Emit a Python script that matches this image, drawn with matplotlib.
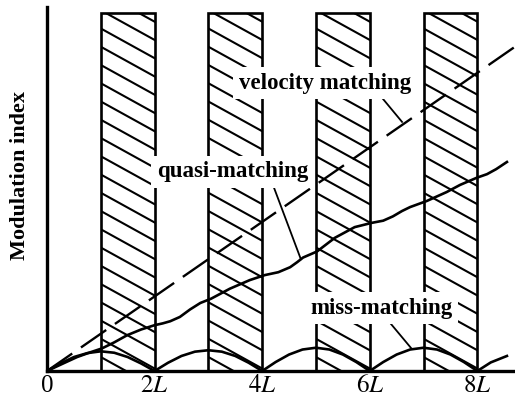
import numpy as np
import matplotlib.pyplot as plt
from matplotlib.patches import Rectangle

plt.rcParams['font.family'] = ['Liberation Serif', 'DejaVu Serif']
plt.rcParams['mathtext.fontset'] = 'stix'

# reversed domains (hatched), in units of L
domain_starts = [1, 3, 5, 7]
domain_width = 1
domain_height = 10

# velocity matching (dashed straight line)
velocity_x = [0, 8.7]
velocity_y = [0, 9.06]

# quasi-matching curve
quasi_x = [0, 0.3, 0.56, 0.8, 1.02, 1.25, 1.49, 1.75, 2.0, 2.15, 2.29, 2.47,
           2.66, 2.85, 3.05, 3.4, 3.77, 4.05, 4.3, 4.52, 4.65, 4.76, 5.02,
           5.35, 5.72, 6.04, 6.25, 6.43, 6.6, 6.75, 7.06, 7.43, 7.68, 7.99,
           8.18, 8.35, 8.55]
quasi_y = [0, 0.21, 0.39, 0.52, 0.63, 0.8, 1.0, 1.16, 1.28, 1.33, 1.39, 1.51,
           1.72, 1.9, 2.02, 2.3, 2.54, 2.68, 2.76, 2.9, 3.04, 3.17, 3.34,
           3.72, 4.02, 4.14, 4.2, 4.32, 4.47, 4.58, 4.75, 5.0, 5.2, 5.4,
           5.5, 5.64, 5.84]

# miss-matching arcs
miss_x = [0, 0.25, 0.5, 0.75, 1.0, 1.25, 1.5, 1.75, 2.0,
          2.25, 2.5, 2.75, 3.0, 3.25, 3.5, 3.75, 4.0,
          4.25, 4.5, 4.75, 5.0, 5.25, 5.5, 5.75, 6.0,
          6.25, 6.5, 6.75, 7.0, 7.25, 7.5, 7.75, 8.0,
          8.25, 8.55]
miss_y = [0, 0.21, 0.39, 0.5, 0.55, 0.51, 0.39, 0.21, 0,
          0.23, 0.42, 0.54, 0.58, 0.54, 0.42, 0.23, 0,
          0.25, 0.46, 0.6, 0.65, 0.6, 0.46, 0.25, 0,
          0.25, 0.46, 0.6, 0.65, 0.6, 0.46, 0.25, 0,
          0.24, 0.42]

tick_pos = [0, 2, 4, 6, 8]
tick_labels = ['0', '$2L$', '$4L$', '$6L$', '$8L$']

# labels: (text, position, leader start, leader end)
labels = [
    ('velocity matching', (5.17, 8.04), (6.23, 7.63), (6.60, 6.96)),
    ('quasi-matching', (3.45, 5.56), (4.20, 5.20), (4.72, 3.12)),
    ('miss-matching', (6.21, 1.76), (6.38, 1.34), (6.78, 0.62)),
]

fig = plt.figure(figsize=(5.15, 4), dpi=100)
ax = fig.add_axes([47 / 515, 29 / 400, 1 - 47 / 515, 364 / 400])
ax.set_xlim(0, 8.7)
ax.set_ylim(0, 10.17)

# hatched domains, hatch drawn by hand to get the shallow slant
slope = 0.83
step = 0.51
for x0 in domain_starts:
    rect = Rectangle((x0, 0), domain_width, domain_height, fill=False,
                     edgecolor='black', lw=1.9, zorder=3)
    ax.add_patch(rect)
    clip = Rectangle((x0, 0), domain_width, domain_height, transform=ax.transData)
    c = domain_height + slope * domain_width - 0.24
    while c > 0:
        ln, = ax.plot([x0, x0 + domain_width], [c, c - slope * domain_width],
                      color='black', lw=1.5, zorder=2)
        ln.set_clip_path(clip)
        c -= step

ax.plot(velocity_x, velocity_y, color='black', lw=1.7,
        linestyle=(0, (13, 4.5)), zorder=4)
ax.plot(quasi_x, quasi_y, color='black', lw=1.9, zorder=4)
ax.plot(miss_x, miss_y, color='black', lw=1.9, zorder=4)

for text, pos, p0, p1 in labels:
    ax.plot([p0[0], p1[0]], [p0[1], p1[1]], color='black', lw=1.3, zorder=4)
    ax.text(pos[0], pos[1], text, fontsize=16.5, fontweight='bold',
            ha='center', va='center', zorder=6,
            bbox=dict(boxstyle='square,pad=0.25', fc='white', ec='none'))

for side in ['top', 'right']:
    ax.spines[side].set_visible(False)
for side in ['left', 'bottom']:
    ax.spines[side].set_linewidth(2.4)

ax.set_yticks([])
ax.set_xticks(tick_pos)
ax.set_xticklabels(tick_labels, fontsize=18)
ax.tick_params(axis='x', length=0, pad=3)

fig.text(20 / 515, 1 - 175 / 400, 'Modulation index', rotation=90,
         ha='center', va='center', fontsize=16, fontweight='bold')

fig.savefig('out.png', dpi=100)
